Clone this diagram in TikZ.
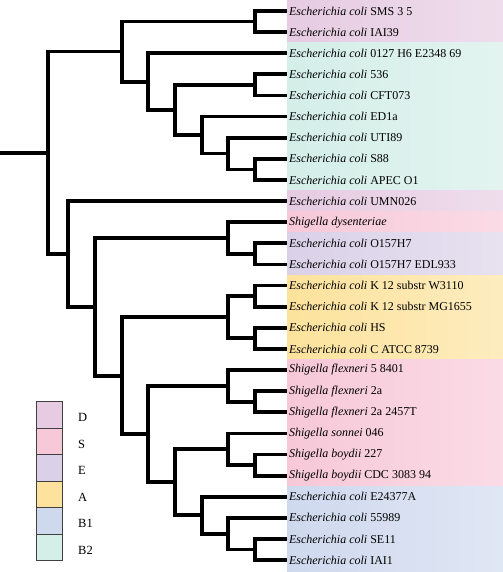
\documentclass[tikz,border=0pt]{standalone}
\usepackage{fontspec}
\setmainfont{Liberation Serif}
\definecolor{cD}{HTML}{E6CBE2}
\definecolor{cS}{HTML}{F7C8D8}
\definecolor{cE}{HTML}{DAD1E8}
\definecolor{cA}{HTML}{FCE29C}
\definecolor{cBone}{HTML}{CFD9EE}
\definecolor{cBtwo}{HTML}{D4EEE8}
\tikzset{
  leaf/.style={anchor=west,inner sep=0pt,outer sep=0pt,font=\fontsize{12bp}{14bp}\selectfont,xshift=2bp},
  edge/.style={line width=3.8bp,line join=miter,black},
  band/.style={draw=none},
  legbox/.style={draw=black!75,line width=1bp,minimum width=26bp,minimum height=26.5bp,inner sep=0pt,anchor=north west},
  leglab/.style={anchor=west,inner sep=0pt,font=\fontsize{12.5bp}{14bp}\selectfont}
}
\begin{document}
\begin{tikzpicture}[x=1bp,y=-1bp]
\useasboundingbox (0,0) rectangle (503,572);
% colour bands
\shade[left color=cD,right color=cD!65!white] (287,0) rectangle (503,42.68);
\shade[left color=cBtwo,right color=cBtwo!65!white] (287,42.68) rectangle (503,190.52);
\shade[left color=cD,right color=cD!65!white] (287,190.52) rectangle (503,211.64);
\shade[left color=cS,right color=cS!65!white] (287,211.64) rectangle (503,232.76);
\shade[left color=cE,right color=cE!65!white] (287,232.76) rectangle (503,275);
\shade[left color=cA,right color=cA!65!white] (287,275) rectangle (503,359.48);
\shade[left color=cS,right color=cS!65!white] (287,359.48) rectangle (503,486.2);
\shade[left color=cBone,right color=cBone!65!white] (287,486.2) rectangle (503,572);
% leaves
\def\ec{\textit{Escherichia coli}}
\node[leaf] (l1) at (287,11) {\ec{} SMS 3 5};
\node[leaf] (l2) at (287,32.12) {\ec{} IAI39};
\node[leaf] (l3) at (287,53.24) {\ec{} 0127 H6 E2348 69};
\node[leaf] (l4) at (287,74.36) {\ec{} 536};
\node[leaf] (l5) at (287,95.48) {\ec{} CFT073};
\node[leaf] (l6) at (287,116.6) {\ec{} ED1a};
\node[leaf] (l7) at (287,137.72) {\ec{} UTI89};
\node[leaf] (l8) at (287,158.84) {\ec{} S88};
\node[leaf] (l9) at (287,179.96) {\ec{} APEC O1};
\node[leaf] (l10) at (287,201.08) {\ec{} UMN026};
\node[leaf] (l11) at (287,222.2) {\textit{Shigella dysenteriae}};
\node[leaf] (l12) at (287,243.32) {\ec{} O157H7};
\node[leaf] (l13) at (287,264.44) {\ec{} O157H7 EDL933};
\node[leaf] (l14) at (287,285.56) {\ec{} K 12 substr W3110};
\node[leaf] (l15) at (287,306.68) {\ec{} K 12 substr MG1655};
\node[leaf] (l16) at (287,327.8) {\ec{} HS};
\node[leaf] (l17) at (287,348.92) {\ec{} C ATCC 8739};
\node[leaf] (l18) at (287,370.04) {\textit{Shigella flexneri} 5 8401};
\node[leaf] (l19) at (287,391.16) {\textit{Shigella flexneri} 2a};
\node[leaf] (l20) at (287,412.28) {\textit{Shigella flexneri} 2a 2457T};
\node[leaf] (l21) at (287,433.4) {\textit{Shigella sonnei} 046};
\node[leaf] (l22) at (287,454.52) {\textit{Shigella boydii} 227};
\node[leaf] (l23) at (287,475.64) {\textit{Shigella boydii} CDC 3083 94};
\node[leaf] (l24) at (287,496.76) {\ec{} E24377A};
\node[leaf] (l25) at (287,517.88) {\ec{} 55989};
\node[leaf] (l26) at (287,539) {\ec{} SE11};
\node[leaf] (l27) at (287,560.12) {\ec{} IAI1};
% tips of leaves
\foreach \i/\y in {1/11,2/32.12,3/53.24,4/74.36,5/95.48,6/116.6,7/137.72,8/158.84,9/179.96,10/201.08,11/222.2,12/243.32,13/264.44,14/285.56,15/306.68,16/327.8,17/348.92,18/370.04,19/391.16,20/412.28,21/433.4,22/454.52,23/475.64,24/496.76,25/517.88,26/539,27/560.12}
  \coordinate (t\i) at (287,\y);
% internal nodes
\coordinate (R0) at (0,152.78);
\coordinate (R) at (48,152.78);
\coordinate (T) at (122,51.59);
\coordinate (T1) at (255,21.56);
\coordinate (T2) at (148,81.62);
\coordinate (T3) at (175,110);
\coordinate (T4) at (255,84.92);
\coordinate (T5) at (202,135.08);
\coordinate (T6) at (228,153.56);
\coordinate (T7) at (255,169.4);
\coordinate (B) at (68,253.96);
\coordinate (C) at (95,306.85);
\coordinate (D1) at (228,238.04);
\coordinate (D2) at (255,253.88);
\coordinate (E1) at (122,375.65);
\coordinate (F) at (228,317.24);
\coordinate (F1) at (255,296.12);
\coordinate (F2) at (255,338.36);
\coordinate (G) at (148,434.06);
\coordinate (H) at (228,385.88);
\coordinate (H1) at (255,401.72);
\coordinate (I) at (175,482.24);
\coordinate (J) at (228,449.24);
\coordinate (J1) at (255,465.08);
\coordinate (K) at (202,515.24);
\coordinate (K1) at (228,533.72);
\coordinate (K2) at (255,549.56);
% edges
\draw[edge] (R0) -- (R);
\foreach \p/\c in {R/T,R/B,
  T/T1,T/T2,T1/t1,T1/t2,T2/t3,T2/T3,T3/T4,T3/T5,T4/t4,T4/t5,T5/t6,T5/T6,T6/t7,T6/T7,T7/t8,T7/t9,
  B/t10,B/C,C/D1,C/E1,D1/t11,D1/D2,D2/t12,D2/t13,
  E1/F,E1/G,F/F1,F/F2,F1/t14,F1/t15,F2/t16,F2/t17,
  G/H,G/I,H/t18,H/H1,H1/t19,H1/t20,
  I/J,I/K,J/t21,J/J1,J1/t22,J1/t23,
  K/t24,K/K1,K1/t25,K1/K2,K2/t26,K2/t27}
  \draw[edge] (\p) |- (\c);
% legend
\node[legbox,fill=cD] (kD) at (36,401) {};
\node[legbox,fill=cS] (kS) at (36,427.5) {};
\node[legbox,fill=cE] (kE) at (36,454) {};
\node[legbox,fill=cA] (kA) at (36,480.5) {};
\node[legbox,fill=cBone] (kB1) at (36,507) {};
\node[legbox,fill=cBtwo] (kB2) at (36,533.5) {};
\node[leglab] (nD) at (78,417.5) {D};
\node[leglab] (nS) at (78,444) {S};
\node[leglab] (nE) at (78,470.5) {E};
\node[leglab] (nA) at (78,497) {A};
\node[leglab] (nB1) at (78,523.5) {B1};
\node[leglab] (nB2) at (78,550) {B2};
\end{tikzpicture}
\end{document}
